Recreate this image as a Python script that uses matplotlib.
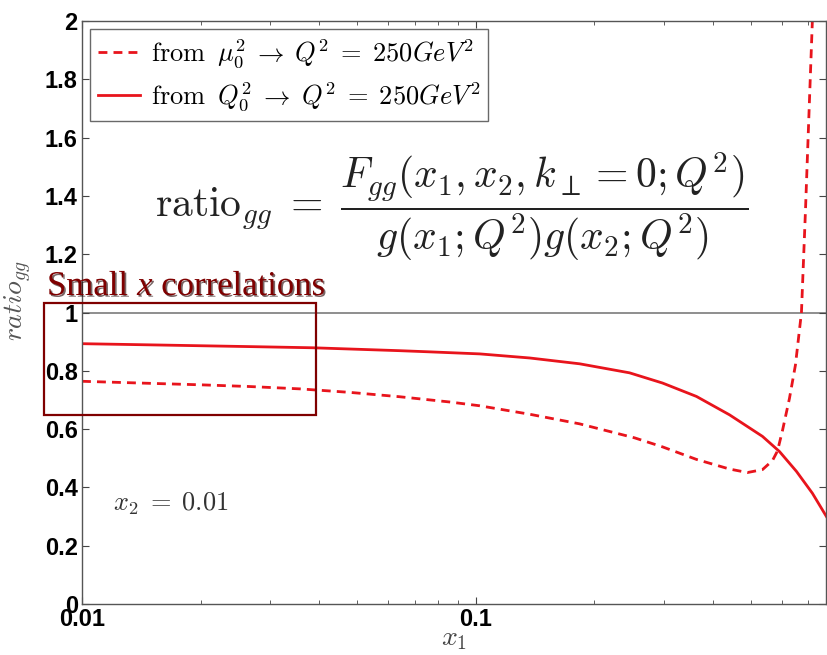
import numpy as np
import matplotlib.pyplot as plt
from matplotlib.patches import Rectangle
import matplotlib.patheffects as pe
from matplotlib.ticker import FixedLocator, LogLocator, NullFormatter

plt.rcParams['mathtext.fontset'] = 'cm'

# courbe pleine : Q0^2 -> Q^2 = 250 GeV^2
x_q0 = [0.01, 0.01488, 0.01993, 0.0267, 0.03857, 0.06413, 0.07642, 0.1024,
        0.1371, 0.1837, 0.246, 0.2983, 0.3638, 0.4413, 0.5352, 0.5912,
        0.6528, 0.7166, 0.778]
r_q0 = [0.893, 0.889, 0.886, 0.883, 0.879, 0.869, 0.865, 0.858,
        0.844, 0.824, 0.793, 0.758, 0.712, 0.649, 0.575, 0.523,
        0.455, 0.380, 0.300]

# courbe tiretee : mu0^2 -> Q^2 = 250 GeV^2
x_mu0 = [0.01, 0.01488, 0.01993, 0.0267, 0.03575, 0.04788, 0.06413, 0.0859,
         0.1024, 0.1371, 0.1837, 0.2533, 0.2983, 0.3638, 0.4413, 0.4901,
         0.5352, 0.5674, 0.5843, 0.6016, 0.6266, 0.649, 0.6722, 0.6882,
         0.7041, 0.721, 0.7379]
r_mu0 = [0.764, 0.757, 0.752, 0.746, 0.738, 0.726, 0.711, 0.693,
         0.680, 0.651, 0.618, 0.570, 0.539, 0.496, 0.463, 0.451,
         0.461, 0.492, 0.525, 0.595, 0.705, 0.820, 1.0, 1.35,
         1.72, 2.1, 2.5]

xticks = [0.01, 0.1]
xtick_labels = ['0.01', '0.1']
yticks = [0, 0.2, 0.4, 0.6, 0.8, 1, 1.2, 1.4, 1.6, 1.8, 2]
ytick_labels = ['0', '0.2', '0.4', '0.6', '0.8', '1', '1.2', '1.4', '1.6', '1.8', '2']

red = '#e8141c'
darkred = '#7f0000'

fig = plt.figure(figsize=(8.27, 6.55), dpi=100)
ax = fig.add_axes([82 / 827, 51 / 655, 744 / 827, 583 / 655])

ax.plot(x_mu0, r_mu0, color=red, lw=2.0, linestyle=(0, (3.2, 2.2)),
        label=r'$\mathrm{from}\;\;\mu_0^2\;\rightarrow\;Q^2\;=\;250GeV^2$')
ax.plot(x_q0, r_q0, color=red, lw=2.0,
        label=r'$\mathrm{from}\;\;Q_0^2\;\rightarrow\;Q^2\;=\;250GeV^2$')
ax.axhline(1, color='#707070', lw=1.1, zorder=1)

ax.set_xscale('log')
ax.set_xlim(0.01, 0.776)
ax.set_ylim(0, 2)
ax.xaxis.set_major_locator(FixedLocator(xticks))
ax.set_xticklabels(xtick_labels)
ax.xaxis.set_minor_locator(LogLocator(base=10, subs=np.arange(2, 10)))
ax.xaxis.set_minor_formatter(NullFormatter())
ax.set_yticks(yticks)
ax.set_yticklabels(ytick_labels)

for lab in ax.get_xticklabels() + ax.get_yticklabels():
    lab.set_fontfamily('Liberation Sans')
    lab.set_fontweight('bold')
    lab.set_fontsize(17)

ax.tick_params(which='both', direction='in', top=True, right=True, color='#444444')
ax.tick_params(which='major', length=5, pad=3)
ax.tick_params(which='minor', length=3)
for s in ax.spines.values():
    s.set_color('#555555')
    s.set_linewidth(1.0)

ax.set_xlabel(r'$x_1$', fontsize=20, color='#444444', labelpad=-5)
ax.set_ylabel(r'$ratio_{gg}$', fontsize=20, color='#555555')
ax.yaxis.set_label_coords(-0.064, 0.52)

leg = ax.legend(loc='upper left', fontsize=19, frameon=True, fancybox=False,
                edgecolor='#444444', handlelength=1.6, handletextpad=0.4,
                borderpad=0.3, labelspacing=0.4, borderaxespad=0.3)
leg.get_frame().set_linewidth(1.0)

ax.text(0.497, 0.682,
        r'$\mathrm{ratio}_{gg}\;=\;\dfrac{F_{gg}(x_1,x_2,k_\perp=0;Q^2)}{g(x_1;Q^2)g(x_2;Q^2)}$',
        transform=ax.transAxes, ha='center', va='center', fontsize=30, color='#222222')
ax.text(0.042, 0.160, r'$x_2\;=\;0.01$', transform=ax.transAxes, fontsize=19, color='#333333')

# encadre "Small x correlations"
fig.patches.append(Rectangle((44 / 827, 240 / 655), 272 / 827, 112 / 655,
                             transform=fig.transFigure, fill=False,
                             edgecolor=darkred, lw=1.6, zorder=5))
fig.canvas.draw()
rend = fig.canvas.get_renderer()
xpos = 47 / 827
ypos = (655 - 295) / 655
pieces = [('Small ', 'normal'), ('x', 'italic'), (' correlations', 'normal')]
for txt, st in pieces:
    t = fig.text(xpos, ypos, txt, fontsize=25, family='Liberation Serif', style=st,
                 color=darkred, va='baseline')
    t.set_path_effects([pe.SimplePatchShadow(offset=(1.2, -1.2), shadow_rgbFace='#200000', alpha=0.6),
                        pe.Normal()])
    bb = t.get_window_extent(renderer=rend)
    xpos = fig.transFigure.inverted().transform((bb.x1, 0))[0]

fig.savefig('out.png', dpi=100)
